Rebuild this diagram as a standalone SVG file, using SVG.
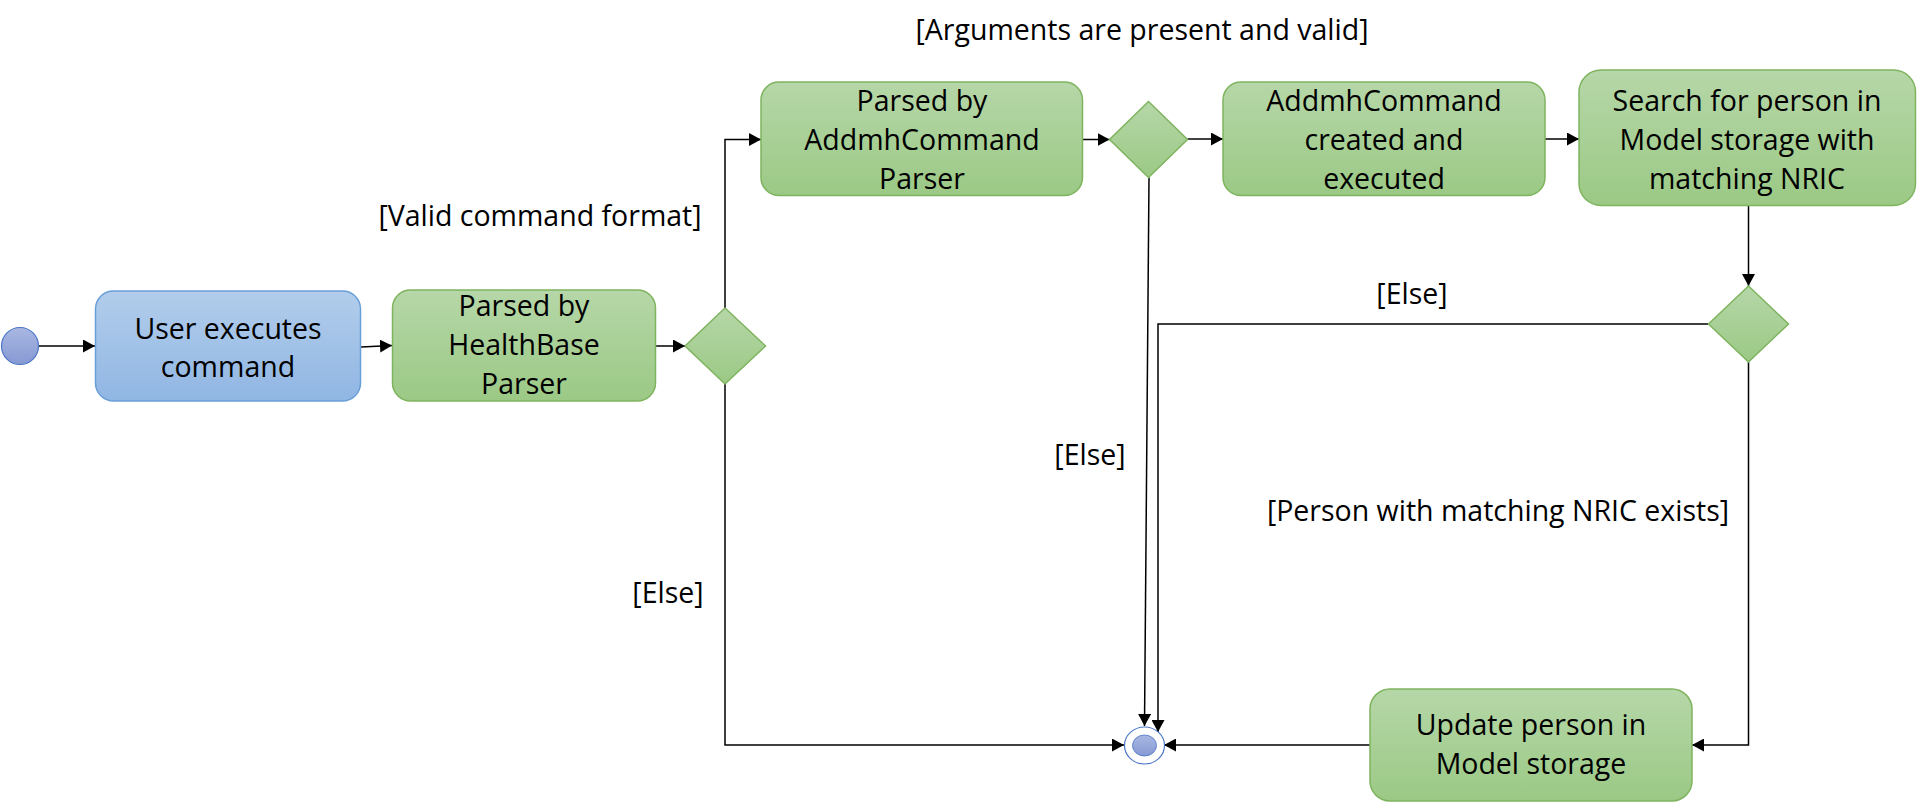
<svg xmlns="http://www.w3.org/2000/svg" width="1918" height="806" viewBox="0 0 1918 806">
<style>
  .txt { font-family: "Open Sans", "Liberation Sans", sans-serif; font-size: 28.5px; fill: #000; text-anchor: middle; }
  .green { fill: url(#gGreen); stroke: #7fb45f; stroke-width: 1.5; }
  .blue { fill: url(#gBlue); stroke: #6a9fd8; stroke-width: 1.5; }
  .conn { fill: none; stroke: #000; stroke-width: 1.5; marker-end: url(#arrow); }
</style>
<defs>
  <linearGradient id="gGreen" x1="0" y1="0" x2="0" y2="1">
    <stop offset="0" stop-color="#b6d7a8"/>
    <stop offset="1" stop-color="#9bc985"/>
  </linearGradient>
  <linearGradient id="gBlue" x1="0" y1="0" x2="0" y2="1">
    <stop offset="0" stop-color="#b2cdeb"/>
    <stop offset="1" stop-color="#90b6e3"/>
  </linearGradient>
  <linearGradient id="gDot" x1="0" y1="0" x2="0" y2="1">
    <stop offset="0" stop-color="#a9b7e2"/>
    <stop offset="1" stop-color="#8699d3"/>
  </linearGradient>
  <marker id="arrow" markerUnits="userSpaceOnUse" markerWidth="13" markerHeight="13" refX="12" refY="6.5" orient="auto">
    <path d="M0,0 L12,6.5 L0,13 z" fill="#000"/>
  </marker>
</defs>
<rect width="1918" height="806" fill="#fff"/>

<g id="connectors">
  <path class="conn" d="M39,346 H95"/>
  <path class="conn" d="M361,347 L392,345.5"/>
  <path class="conn" d="M656,346 H685"/>
  <path class="conn" d="M725,308 V139.5 H761"/>
  <path class="conn" d="M725,384 V745 H1124"/>
  <path class="conn" d="M1082.5,139.5 H1109.5"/>
  <path class="conn" d="M1187.5,139 H1223"/>
  <path class="conn" d="M1545,139 H1579"/>
  <path class="conn" d="M1748.5,205.5 V286"/>
  <path class="conn" d="M1708.5,324 H1158 V732"/>
  <path class="conn" d="M1748.5,362 V745 H1692"/>
  <path class="conn" d="M1370,745 H1164"/>
  <path class="conn" d="M1149,177.5 L1144.5,726"/>
</g>

<g id="start">
  <circle cx="20" cy="346" r="18.5" fill="url(#gDot)" stroke="#4a76c6" stroke-width="1.2"/>
</g>

<g id="user-executes">
  <rect class="blue" x="95.5" y="291" width="265" height="110" rx="18"/>
  <text class="txt" x="228" y="339">User executes</text>
  <text class="txt" x="228" y="377">command</text>
</g>

<g id="parsed-healthbase">
  <rect class="green" x="392.5" y="290" width="263" height="111" rx="18"/>
  <text class="txt" x="524" y="316">Parsed by</text>
  <text class="txt" x="524" y="355">HealthBase</text>
  <text class="txt" x="524" y="394">Parser</text>
</g>

<g id="decision-1">
  <polygon class="green" points="725,308 765.5,346 725,384 685,346"/>
</g>

<g id="parsed-addmh">
  <rect class="green" x="761" y="82" width="321.5" height="113.5" rx="18"/>
  <text class="txt" x="922" y="111">Parsed by</text>
  <text class="txt" x="922" y="150">AddmhCommand</text>
  <text class="txt" x="922" y="189">Parser</text>
</g>

<g id="decision-2">
  <polygon class="green" points="1148.5,101.5 1187.5,139.5 1148.5,177.5 1109.5,139.5"/>
</g>

<g id="addmh-created">
  <rect class="green" x="1223" y="82" width="322" height="113.5" rx="18"/>
  <text class="txt" x="1384" y="111">AddmhCommand</text>
  <text class="txt" x="1384" y="150">created and</text>
  <text class="txt" x="1384" y="189">executed</text>
</g>

<g id="search-person">
  <rect class="green" x="1579" y="70" width="336.5" height="135.5" rx="22"/>
  <text class="txt" x="1747" y="111">Search for person in</text>
  <text class="txt" x="1747" y="150">Model storage with</text>
  <text class="txt" x="1747" y="189">matching NRIC</text>
</g>

<g id="decision-3">
  <polygon class="green" points="1748.5,286 1788.5,324 1748.5,362 1708.5,324"/>
</g>

<g id="update-person">
  <rect class="green" x="1370" y="689" width="322" height="112" rx="20"/>
  <text class="txt" x="1531" y="735">Update person in</text>
  <text class="txt" x="1531" y="774">Model storage</text>
</g>

<g id="end">
  <ellipse cx="1144.5" cy="745.5" rx="20" ry="18.5" fill="#fff" stroke="#4a76c6" stroke-width="1.2"/>
  <ellipse cx="1144.5" cy="745.5" rx="12" ry="10.5" fill="url(#gDot)" stroke="#4a76c6" stroke-width="0.8"/>
</g>

<g id="labels">
  <text class="txt" x="1142" y="40">[Arguments are present and valid]</text>
  <text class="txt" x="540" y="226">[Valid command format]</text>
  <text class="txt" x="668" y="603">[Else]</text>
  <text class="txt" x="1090" y="465">[Else]</text>
  <text class="txt" x="1412" y="304">[Else]</text>
  <text class="txt" x="1498" y="521">[Person with matching NRIC exists]</text>
</g>
</svg>
